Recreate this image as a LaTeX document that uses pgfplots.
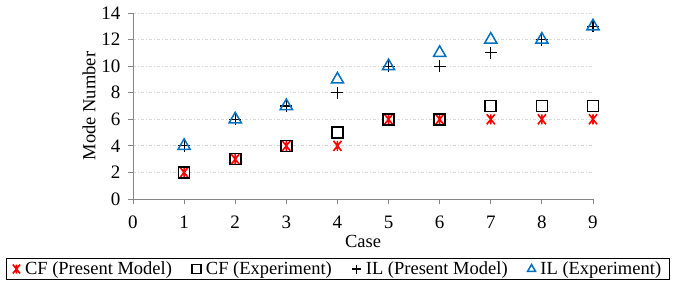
\documentclass[border=0pt]{standalone}
\usepackage{fontspec}
\setmainfont{Liberation Serif}
\usepackage{pgfplots}
\pgfplotsset{compat=1.18}
\definecolor{exblue}{RGB}{0,112,192}
\definecolor{axgray}{RGB}{134,134,134}
\definecolor{gridgray}{RGB}{217,217,217}
\pgfdeclareplotmark{xstar}{%
  \pgfpathmoveto{\pgfqpoint{-0.8\pgfplotmarksize}{-\pgfplotmarksize}}%
  \pgfpathlineto{\pgfqpoint{0.8\pgfplotmarksize}{\pgfplotmarksize}}%
  \pgfpathmoveto{\pgfqpoint{-0.8\pgfplotmarksize}{\pgfplotmarksize}}%
  \pgfpathlineto{\pgfqpoint{0.8\pgfplotmarksize}{-\pgfplotmarksize}}%
  \pgfpathmoveto{\pgfqpoint{0pt}{-\pgfplotmarksize}}%
  \pgfpathlineto{\pgfqpoint{0pt}{\pgfplotmarksize}}%
  \pgfusepathqstroke}
\begin{document}
\begin{tikzpicture}
\begin{axis}[
  at={(0,0)}, anchor=south west,
  scale only axis, width=460bp, height=186bp,
  xmin=0, xmax=9, ymin=0, ymax=14,
  xtick={0,...,9}, ytick={0,2,...,14},
  axis x line*=bottom, axis y line*=left,
  axis line style={draw=axgray, line width=0.8bp},
  tick style={draw=axgray, line width=0.8bp},
  tick align=outside, major tick length=5bp,
  ymajorgrids, grid style={gridgray, dash pattern=on 3bp off 2bp on 1bp off 2bp, line width=0.8bp},
  font=\fontsize{18.5bp}{22bp}\selectfont,
  tick label style={font=\fontsize{19bp}{22bp}\selectfont},
  /pgf/number format/assume math mode=true,
  xticklabel style={anchor=center, yshift=-18bp},
  yticklabel style={anchor=east, xshift=-4bp},
  xlabel={Case}, ylabel={Mode Number},
  xlabel style={at={(axis description cs:0.5,-0.2258)}, anchor=center},
  ylabel style={at={(axis description cs:-0.0957,0.5)}, anchor=center},
  clip=false,
  legend columns=4,
  legend style={at={(205bp,-70bp)}, anchor=center, draw=black, line width=0.8bp,
    font=\fontsize{18.5bp}{22bp}\selectfont, inner xsep=6bp, inner ysep=1.5bp,
    /tikz/every odd column/.append style={column sep=3bp},
    /tikz/every even column/.append style={column sep=18bp}},
  legend image code/.code={\draw[mark repeat=2,mark phase=2,#1,mark size=4.5bp] plot coordinates {(0bp,0bp)(5bp,0bp)(10bp,0bp)};},
]
\addplot[only marks, mark=xstar, red, mark size=5bp, line width=1.6bp] coordinates {
(1,2)(2,3)(3,4)(4,4)(5,6)(6,6)(7,6)(8,6)(9,6)};
\addlegendentry{CF (Present Model)}
\addplot[only marks, mark=square, black, mark size=5.5bp, line width=1.6bp] coordinates {
(1,2)(2,3)(3,4)(4,5)(5,6)(6,6)(7,7)(8,7)(9,7)};
\addlegendentry{CF (Experiment)}
\addplot[only marks, mark=+, black, mark size=6bp, line width=1.2bp] coordinates {
(1,4)(2,6)(3,7)(4,8)(5,10)(6,10)(7,11)(8,12)(9,13)};
\addlegendentry{IL (Present Model)}
\addplot[only marks, mark=triangle, exblue, mark size=7bp, line width=1.5bp] coordinates {
(1,4)(2,6)(3,7)(4,9)(5,10)(6,11)(7,12)(8,12)(9,13)};
\addlegendentry{IL (Experiment)}
\end{axis}
\pgfresetboundingbox
\path (-133bp,-87bp) rectangle (543bp,199bp);
\end{tikzpicture}
\end{document}
